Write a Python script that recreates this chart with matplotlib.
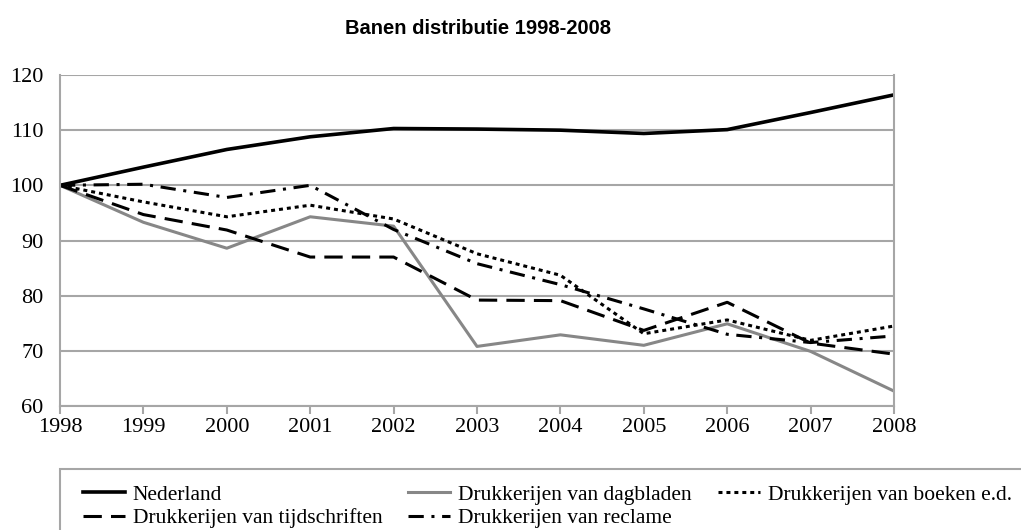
import matplotlib
matplotlib.use("Agg")
import matplotlib.pyplot as plt
from matplotlib.patches import Rectangle

years = [1998, 1999, 2000, 2001, 2002, 2003, 2004, 2005, 2006, 2007, 2008]
nederland = [100, 103.3, 106.5, 108.8, 110.3, 110.2, 110.0, 109.4, 110.1, 113.2, 116.4]
dagbladen = [100, 93.3, 88.6, 94.3, 92.6, 70.8, 72.9, 71.0, 74.9, 69.9, 62.7]
boeken = [100, 97.0, 94.3, 96.4, 93.9, 87.6, 83.7, 73.1, 75.6, 71.9, 74.5]
tijdschriften = [100, 94.7, 91.9, 87.0, 87.0, 79.2, 79.1, 73.7, 78.8, 71.4, 69.4]
reclame = [100, 100.2, 97.8, 100.0, 92.0, 85.8, 82.0, 77.6, 73.0, 71.5, 72.7]
labels = ["Nederland", "Drukkerijen van dagbladen", "Drukkerijen van boeken e.d.",
          "Drukkerijen van tijdschriften", "Drukkerijen van reclame"]
y_ticks = [60, 70, 80, 90, 100, 110, 120]

serif = ["Liberation Serif", "DejaVu Serif"]
grid_c = "#a6a6a6"

fig = plt.figure(figsize=(10.21, 5.30), dpi=100)
ax = fig.add_axes([60/1021, 1-406/530, (894-60)/1021, (406-75)/530])

lw = 2.2
h_ned, = ax.plot(years, nederland, color="black", lw=2.6, solid_joinstyle="round")
h_dag, = ax.plot(years, dagbladen, color="#878787", lw=lw)
h_boe, = ax.plot(years, boeken, color="black", lw=lw, dashes=(1.3, 1.3))
h_tij, = ax.plot(years, tijdschriften, color="black", lw=lw, dashes=(6, 3))
h_rec, = ax.plot(years, reclame, color="black", lw=lw, dashes=(5, 2.5, 1, 2.5))

ax.set_xlim(years[0], years[-1])
ax.set_ylim(y_ticks[0], y_ticks[-1])
ax.set_xticks(years)
ax.set_yticks(y_ticks)
ax.set_xticklabels([str(y) for y in years], fontfamily=serif, fontsize=16)
ax.set_yticklabels([str(v) for v in y_ticks], fontfamily=serif, fontsize=16)
ax.yaxis.grid(True, color=grid_c, lw=1.5)
ax.set_axisbelow(True)
for s in ["left", "bottom", "right"]:
    ax.spines[s].set_color(grid_c)
    ax.spines[s].set_linewidth(1.5)
ax.spines["top"].set_visible(False)
ax.tick_params(axis="x", direction="out", length=6, width=1.5, color=grid_c, pad=3)
ax.tick_params(axis="y", length=0, pad=12)

fig.text(478/1021, 1-28/530, "Banen distributie 1998-2008", ha="center", va="center",
         fontsize=14.5, fontweight="bold", family="Liberation Sans")

# legend frame (extends beyond figure on right/bottom)
fig.patches.append(Rectangle((60/1021, -0.05), 1.0, 1-469/530+0.05, transform=fig.transFigure,
                             fill=False, edgecolor=grid_c, lw=1.5))

leg = fig.legend([h_ned, h_tij, h_dag, h_rec, h_boe],
                 [labels[0], labels[3], labels[1], labels[4], labels[2]],
                 ncol=3, loc="upper left", bbox_to_anchor=(72/1021, 1-474/530),
                 frameon=False, prop={"family": serif, "size": 15.5},
                 handlelength=1.95, handletextpad=0.37, columnspacing=1.2,
                 labelspacing=0.15, borderpad=0.0)

fig.savefig("out.png", dpi=100)
